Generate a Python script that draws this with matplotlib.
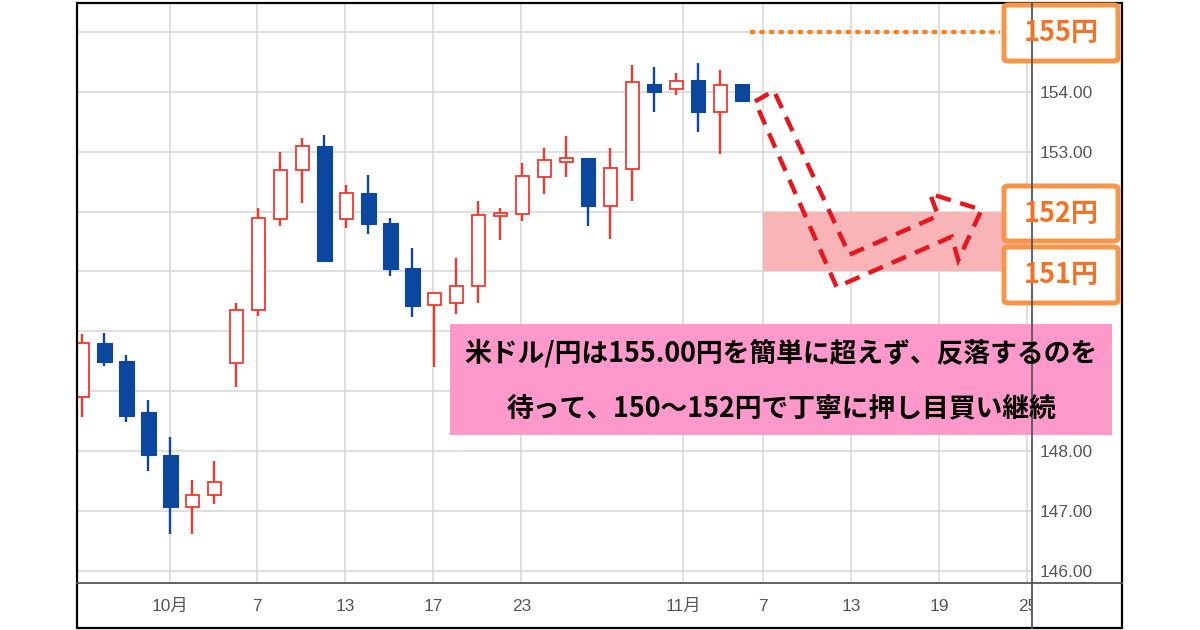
import matplotlib
matplotlib.use("Agg")
import matplotlib.pyplot as plt
from matplotlib.patches import Rectangle, FancyBboxPatch, Polygon
from matplotlib.lines import Line2D

plt.rcParams['font.family'] = ['Liberation Sans', 'Noto Sans CJK JP']

# daily USD/JPY candles (open, high, low, close)
opens  = [148.90, 149.80, 149.50, 148.66, 147.94, 147.06, 147.26, 149.47, 150.35, 151.88,
          152.69, 153.10, 151.88, 152.31, 151.81, 151.06, 150.44, 150.47, 150.75, 151.93,
          151.96, 152.58, 152.83, 152.89, 152.10, 152.71, 154.14, 154.04, 154.20, 153.66, 154.13]
highs  = [149.95, 149.98, 149.61, 148.86, 148.24, 147.52, 147.83, 150.47, 152.06, 153.00,
          153.23, 153.28, 152.45, 152.61, 151.89, 151.39, 150.64, 151.22, 152.17, 152.06,
          152.82, 153.06, 153.27, 152.89, 153.06, 154.45, 154.42, 154.31, 154.48, 154.37, 154.14]
lows   = [148.57, 149.42, 148.48, 147.67, 146.62, 146.62, 147.12, 149.07, 150.26, 151.76,
          152.15, 151.15, 151.73, 151.62, 150.93, 150.24, 149.40, 150.29, 150.48, 151.52,
          151.85, 152.30, 152.58, 151.76, 151.54, 152.18, 153.66, 153.94, 153.33, 152.96, 153.83]
closes = [149.80, 149.48, 148.59, 147.93, 147.06, 147.27, 147.49, 150.36, 151.89, 152.70,
          153.09, 151.18, 152.31, 151.80, 151.04, 150.43, 150.64, 150.75, 151.95, 151.97,
          152.59, 152.86, 152.89, 152.10, 152.73, 154.17, 153.99, 154.19, 153.66, 154.12, 153.85]

# x axis labels (position in trading-day index)
xtick_pos = [3.97, 7.95, 11.95, 15.95, 19.95, 27.3, 30.95, 34.95, 38.95, 42.95]
xtick_lab = ["10月", "7", "13", "17", "23", "11月", "7", "13", "19", "25"]
ytick_vals = [146, 147, 148, 149, 150, 151, 152, 153, 154, 155]
# price labels hidden behind the orange boxes / message box
hidden_y = [149, 151, 152, 155]

target_line = 155.0
zone_low, zone_high = 151.0, 152.0
zone_start = 30.93

# dashed arrow outline (index, price)
arrow_x = [30.57, 31.43, 34.86, 38.90, 38.52, 40.87, 39.81, 39.51, 34.28]
arrow_y = [153.84, 154.02, 151.28, 151.93, 152.30, 152.03, 151.19, 151.58, 150.74]

msg1 = "米ドル/円は155.00円を簡単に超えず、反落するのを"
msg2 = "待って、150〜152円で丁寧に押し目買い継続"

RED = "#F2382E"
BLUE = "#0B479F"
W, H = 1200, 630


def fx(x):
    return x / W


def fy(y):
    return 1 - y / H


fig = plt.figure(figsize=(12, 6.3), dpi=100)
fig.patch.set_facecolor("white")
ax = fig.add_axes([fx(77), fy(583.3), (1031.5 - 77) / W, (583.3 - 2.7) / H])

ax.set_xlim(-0.25, 43.14)
ax.set_ylim(145.79, 155.49)

# grid
ax.set_xticks(xtick_pos)
ax.set_xticklabels(xtick_lab)
ax.set_yticks(ytick_vals)
ax.set_yticklabels(["" if v in hidden_y else f"{v:.2f}" for v in ytick_vals])
ax.grid(True, color="#d6d6d6", lw=1.1, zorder=0)
ax.set_axisbelow(True)
ax.yaxis.tick_right()
ax.tick_params(axis="y", length=0, pad=6, labelsize=12.5, labelcolor="#555555")
ax.tick_params(axis="x", length=0, pad=11, labelsize=12.5, labelcolor="#555555")
for s in ["left", "top", "right", "bottom"]:
    ax.spines[s].set_visible(False)

# candles
for i in range(len(opens)):
    o, h, l, c = opens[i], highs[i], lows[i], closes[i]
    up = c >= o
    col = RED if up else BLUE
    ax.vlines(i, l, h, color=col, lw=1.7, zorder=2)
    bottom = min(o, c)
    height = max(abs(c - o), 0.03)
    if up:
        ax.bar(i, height, bottom=bottom, width=0.62, facecolor="white", edgecolor=col,
               lw=1.3, zorder=3)
    else:
        ax.bar(i, height, bottom=bottom, width=0.64, facecolor=col, edgecolor=col,
               lw=0.8, zorder=3)

# pink buy zone
ax.add_patch(Rectangle((zone_start, zone_low), 20, zone_high - zone_low,
                       facecolor="#F8B4B6", edgecolor="none", zorder=1.5))

# 155 dotted line
ax.plot([30.34, 41.7], [target_line, target_line], color="#F5801F", lw=3.0,
        ls=(0, (1.2, 1.1)), dash_capstyle="butt", zorder=4)

# dashed arrow
ax.add_patch(Polygon(list(zip(arrow_x, arrow_y)), closed=True, fill=False,
                     edgecolor="#E8161C", lw=3.2, ls=(0, (3.5, 2.2)),
                     joinstyle="miter", zorder=5))

# frame and axis lines
fig.add_artist(Line2D([fx(77), fx(1122)], [fy(583.3), fy(583.3)], color="#555555", lw=1.3))
fig.add_artist(Line2D([fx(1031.5), fx(1031.5)], [fy(2.7), fy(628.3)], color="#555555", lw=1.3))
# hide part of "25" beyond the price axis
fig.add_artist(Rectangle((fx(1032.5), fy(627)), (1120 - 1032.5) / W, (627 - 584.5) / H,
                         transform=fig.transFigure, facecolor="white", edgecolor="none"))
fig.add_artist(Rectangle((fx(77), fy(628.3)), (1122 - 77) / W, (628.3 - 2.7) / H,
                         transform=fig.transFigure, fill=False, edgecolor="black", lw=1.6))

# orange price boxes
for label, y0, y1 in [("155円", 5, 61), ("152円", 186, 241), ("151円", 247, 303)]:
    fig.add_artist(FancyBboxPatch((fx(1004), fy(y1)), (1118 - 1004) / W, (y1 - y0) / H,
                                  boxstyle="round,pad=0,rounding_size=0.004",
                                  transform=fig.transFigure, facecolor="white",
                                  edgecolor="#F79646", lw=3.6))
    fig.text(fx(1061), fy((y0 + y1) / 2), label, color="#F07427", fontsize=19.5,
             fontweight="bold", ha="center", va="center",
             family=["Noto Sans CJK JP"])

# pink message box
fig.add_artist(Rectangle((fx(450), fy(435)), (1112 - 450) / W, (435 - 324) / H,
                         transform=fig.transFigure, facecolor="#FF99CC", edgecolor="none"))
fig.text(fx(781), fy(353), msg1, fontsize=19.3, fontweight="bold", ha="center",
         va="center", color="black", family=["Noto Sans CJK JP"])
fig.text(fx(781), fy(408), msg2, fontsize=19.3, fontweight="bold", ha="center",
         va="center", color="black", family=["Noto Sans CJK JP"])

fig.savefig("out.png", dpi=100)
